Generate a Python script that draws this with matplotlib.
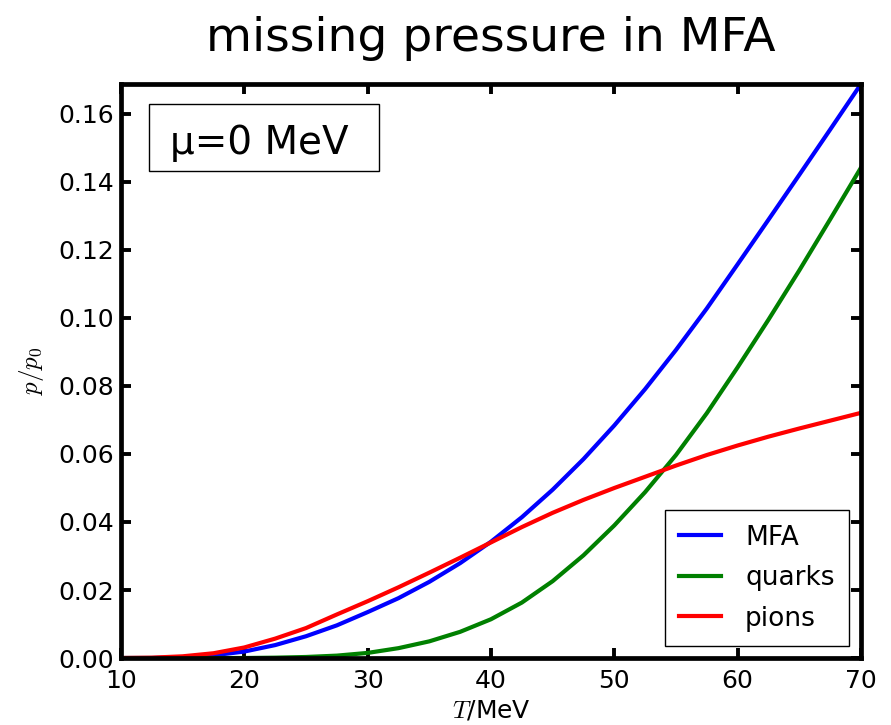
import matplotlib
matplotlib.use("Agg")
import matplotlib.pyplot as plt
from matplotlib.patches import Rectangle
from matplotlib.ticker import FormatStrFormatter, MultipleLocator

plt.rcParams['mathtext.fontset'] = 'cm'

# temperature grid (MeV) and pressures normalised to p0
T = [10, 12.5, 15, 17.5, 20, 22.5, 25, 27.5, 30, 32.5, 35, 37.5, 40,
     42.5, 45, 47.5, 50, 52.5, 55, 57.5, 60, 62.5, 65, 67.5, 70]
p_mfa = [0.0000, 0.0000, 0.0002, 0.0008, 0.0019, 0.0038, 0.0064, 0.0096,
         0.0135, 0.0176, 0.0224, 0.0279, 0.0342, 0.0414, 0.0495, 0.0585,
         0.0684, 0.0791, 0.0906, 0.1028, 0.1158, 0.1289, 0.1421, 0.1554,
         0.1688]
p_quarks = [0.0000, 0.0000, 0.0000, 0.0000, 0.0000, 0.0001, 0.0003, 0.0007,
            0.0015, 0.0029, 0.0049, 0.0077, 0.0114, 0.0163, 0.0226, 0.0302,
            0.0390, 0.0488, 0.0597, 0.0720, 0.0855, 0.0995, 0.1140, 0.1290,
            0.1442]
p_pions = [0.0000, 0.0001, 0.0005, 0.0014, 0.0031, 0.0057, 0.0088, 0.0128,
           0.0167, 0.0208, 0.0251, 0.0295, 0.0340, 0.0385, 0.0427, 0.0465,
           0.0500, 0.0533, 0.0566, 0.0597, 0.0625, 0.0651, 0.0675, 0.0698,
           0.0721]

fig = plt.figure(figsize=(8.91, 7.25), dpi=100)
ax = fig.add_axes([0.1358, 0.0924, 0.8305, 0.7917])

ax.plot(T, p_mfa, color='#0000ff', lw=3, label='MFA')
ax.plot(T, p_quarks, color='#008000', lw=3, label='quarks')
ax.plot(T, p_pions, color='#ff0000', lw=3, label='pions')

ax.set_xlim(10, 70)
ax.set_ylim(0, max(p_mfa))
ax.xaxis.set_major_locator(MultipleLocator(10))
ax.yaxis.set_major_locator(MultipleLocator(0.02))
ax.yaxis.set_major_formatter(FormatStrFormatter('%.2f'))

for s in ax.spines.values():
    s.set_linewidth(3.4)
ax.tick_params(direction='in', length=7.5, width=2.8, top=True, right=True,
               labelsize=18)
ax.tick_params(axis='x', pad=8)
ax.tick_params(axis='y', pad=5)

ax.set_xlabel('$T$/MeV', fontsize=18, labelpad=4)
ax.set_ylabel('$p/p_0$', fontsize=18, labelpad=9)
ax.set_title('missing pressure in MFA', fontsize=34, pad=24)

# chemical potential note in a plain box
ax.add_patch(Rectangle((0.038, 0.848), 0.311, 0.118, transform=ax.transAxes,
                       fc='white', ec='black', lw=1, zorder=5))
ax.text(0.066, 0.878, '\u03bc=0 MeV', transform=ax.transAxes, fontsize=28,
        va='baseline', ha='left', zorder=6)

leg = ax.legend(loc='lower right', fontsize=19, handlelength=1.6,
                handletextpad=0.9, labelspacing=0.55, borderpad=0.55,
                borderaxespad=0.45, fancybox=False, framealpha=1)
leg.get_frame().set_edgecolor('black')
leg.get_frame().set_linewidth(1)

fig.savefig('out.png', dpi=100)
